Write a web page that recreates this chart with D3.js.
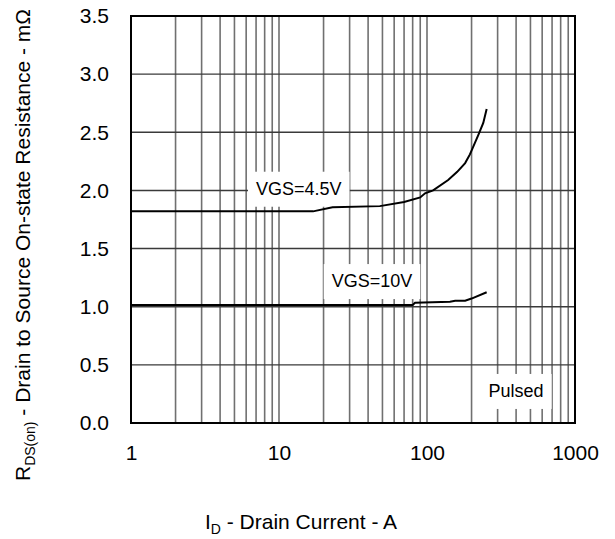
<!DOCTYPE html>
<html>
<head>
<meta charset="utf-8">
<script src="https://cdn.jsdelivr.net/npm/d3@7"></script>
<style>
  body { margin: 0; background: #fff; }
  text { font-family: "Liberation Sans", Arial, sans-serif; fill: #000; }
</style>
</head>
<body>
<div id="chart"></div>
<script>
// chart values
const xTicks = [1, 10, 100, 1000];
const yTicks = [0, 0.5, 1.0, 1.5, 2.0, 2.5, 3.0, 3.5];

// VGS = 4.5V curve: drain current (A) and resistance (mOhm)
const id45 = [1, 17, 23, 48, 70, 90, 97, 110, 139, 160, 181, 195, 222, 240, 253];
const r45 = [1.82, 1.82, 1.855, 1.865, 1.9, 1.94, 1.975, 2.0, 2.09, 2.16, 2.235, 2.31, 2.475, 2.58, 2.7];

// VGS = 10V curve
const id10 = [1, 80, 83, 143, 155, 181, 200, 253];
const r10 = [1.015, 1.015, 1.034, 1.043, 1.052, 1.052, 1.07, 1.124];

const labels = [
  { text: "VGS=4.5V", x: 13.6, y: 1.963 },
  { text: "VGS=10V", x: 42.5, y: 1.169 },
  { text: "Pulsed", x: 400, y: 0.224 }
];

const WIDTH = 615;
const HEIGHT = 539;
const MARGIN = { left: 131, top: 16, right: 40, bottom: 116 };
const innerW = WIDTH - MARGIN.left - MARGIN.right;
const innerH = HEIGHT - MARGIN.top - MARGIN.bottom;

const svg = d3.select("#chart").append("svg")
  .attr("width", WIDTH)
  .attr("height", HEIGHT);

const g = svg.append("g")
  .attr("transform", "translate(" + MARGIN.left + "," + MARGIN.top + ")");

const xScale = d3.scaleLog().domain([1, 1000]).range([0, innerW]);
const yScale = d3.scaleLinear().domain([0, 3.5]).range([innerH, 0]);

// grid lines
let minor = [];
[1, 10, 100].forEach(dec => {
  for (let k = 1; k <= 9; k++) minor.push(dec * k);
});
minor.push(1000);

g.append("g").selectAll("line")
  .data(minor)
  .enter()
  .append("line")
  .attr("x1", d => xScale(d))
  .attr("x2", d => xScale(d))
  .attr("y1", 0)
  .attr("y2", innerH)
  .attr("stroke", "#707070")
  .attr("stroke-width", 1.6);

g.append("g").selectAll("line")
  .data(yTicks)
  .enter()
  .append("line")
  .attr("x1", 0)
  .attr("x2", innerW)
  .attr("y1", d => yScale(d))
  .attr("y2", d => yScale(d))
  .attr("stroke", "#3a3a3a")
  .attr("stroke-width", 1.4);

// frame
g.append("rect")
  .attr("width", innerW)
  .attr("height", innerH)
  .attr("fill", "none")
  .attr("stroke", "#000")
  .attr("stroke-width", 2);

// curve labels with white boxes behind them
labels.forEach(l => {
  let t = g.append("text")
    .attr("x", xScale(l.x))
    .attr("y", yScale(l.y))
    .attr("text-anchor", "middle")
    .style("font-size", "18px")
    .text(l.text);
  let bb = t.node().getBBox();
  g.insert("rect", "text")
    .attr("x", bb.x - 8)
    .attr("y", bb.y - 7)
    .attr("width", bb.width + 16)
    .attr("height", bb.height + 15)
    .attr("fill", "#fff");
});

// curves
const line = d3.line()
  .x(d => xScale(d[0]))
  .y(d => yScale(d[1]));

[[id45, r45], [id10, r10]].forEach(s => {
  g.append("path")
    .datum(s[0].map((d, i) => [d, s[1][i]]))
    .attr("d", line)
    .attr("fill", "none")
    .attr("stroke", "#000")
    .attr("stroke-width", 2);
});

// axes (labels only)
const xAxis = d3.axisBottom(xScale)
  .tickValues(xTicks)
  .tickFormat(d3.format("d"))
  .tickSize(0)
  .tickPadding(22);
g.append("g")
  .attr("transform", "translate(0," + innerH + ")")
  .call(xAxis)
  .call(a => a.select(".domain").remove())
  .selectAll("text")
  .style("font-size", "21px")
  .style("font-family", "'Liberation Sans', Arial, sans-serif");

const yAxis = d3.axisLeft(yScale)
  .tickValues(yTicks)
  .tickFormat(d3.format(".1f"))
  .tickSize(0)
  .tickPadding(22);
g.append("g")
  .call(yAxis)
  .call(a => a.select(".domain").remove())
  .selectAll("text")
  .style("font-size", "21px")
  .style("font-family", "'Liberation Sans', Arial, sans-serif");

// axis titles
let xt = svg.append("text")
  .attr("x", 301)
  .attr("y", 529)
  .attr("text-anchor", "middle")
  .style("font-size", "21px");
xt.append("tspan").text("I");
xt.append("tspan").attr("dy", 5).style("font-size", "14px").text("D");
xt.append("tspan").attr("dy", -5).text(" - Drain Current - A");

let yt = svg.append("text")
  .attr("transform", "translate(30,245) rotate(-90)")
  .attr("text-anchor", "middle")
  .style("font-size", "21px");
yt.append("tspan").text("R");
yt.append("tspan").attr("dy", 5).style("font-size", "14px").text("DS(on)");
yt.append("tspan").attr("dy", -5).text(" - Drain to Source On-state Resistance - m\u03A9");
</script>
</body>
</html>
